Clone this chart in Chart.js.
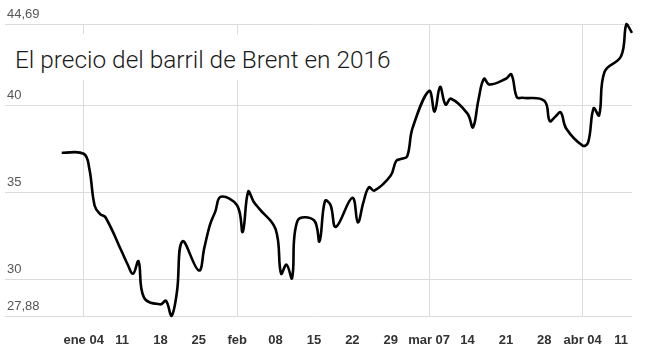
<!DOCTYPE html>
<html>
<head>
<meta charset="utf-8">
<script src="https://cdn.jsdelivr.net/npm/chart.js@4"></script>
<style>
  html, body { margin: 0; padding: 0; background: #fff; }
  #wrap { position: relative; width: 664px; height: 353px; }
  #titulo {
    position: absolute; left: 0; top: 34px; width: 405px; height: 46px;
    background: #fff; color: #1a1a1a;
    font-family: Roboto, "Liberation Sans", sans-serif; font-weight: 300;
    font-size: 24.4px; line-height: 40px; padding: 6px 0 0 15px; box-sizing: border-box;
    white-space: nowrap;
  }
</style>
</head>
<body>
<div id="wrap">
  <canvas id="grafico" width="664" height="353"></canvas>
  <div id="titulo">El precio del barril de Brent en 2016</div>
</div>
<script>
// Brent, USD por barril (cierre diario)
var fechas = ['2015-12-31',
  '2016-01-04','2016-01-05','2016-01-06','2016-01-07','2016-01-08',
  '2016-01-11','2016-01-12','2016-01-13','2016-01-14','2016-01-15',
  '2016-01-18','2016-01-19','2016-01-20','2016-01-21','2016-01-22',
  '2016-01-25','2016-01-26','2016-01-27','2016-01-28','2016-01-29',
  '2016-02-01','2016-02-02','2016-02-03','2016-02-04','2016-02-05',
  '2016-02-08','2016-02-09','2016-02-10','2016-02-11','2016-02-12',
  '2016-02-15','2016-02-16','2016-02-17','2016-02-18','2016-02-19',
  '2016-02-22','2016-02-23','2016-02-24','2016-02-25','2016-02-26',
  '2016-02-29','2016-03-01','2016-03-02','2016-03-03','2016-03-04',
  '2016-03-07','2016-03-08','2016-03-09','2016-03-10','2016-03-11',
  '2016-03-14','2016-03-15','2016-03-16','2016-03-17','2016-03-18',
  '2016-03-21','2016-03-22','2016-03-23','2016-03-24',
  '2016-03-28','2016-03-29','2016-03-30','2016-03-31','2016-04-01',
  '2016-04-04','2016-04-05','2016-04-06','2016-04-07','2016-04-08',
  '2016-04-11','2016-04-12','2016-04-13'];

var precios = [37.28,
  37.22, 36.42, 34.23, 33.75, 33.55,
  31.55, 30.86, 30.31, 31.03, 28.94,
  28.55, 28.76, 27.88, 29.25, 32.18,
  30.50, 31.80, 33.10, 33.89, 34.74,
  34.24, 32.72, 35.04, 34.46, 34.06,
  32.88, 30.32, 30.84, 30.06, 33.36,
  33.39, 32.18, 34.50, 34.28, 33.01,
  34.69, 33.27, 34.41, 35.29, 35.10,
  35.97, 36.81, 36.93, 37.07, 38.72,
  40.84, 39.65, 41.07, 40.05, 40.39,
  39.53, 38.74, 40.33, 41.54, 41.20,
  41.54, 41.79, 40.47, 40.44,
  40.27, 39.10, 39.35, 39.60, 38.67,
  37.69, 37.87, 39.84, 39.43, 41.94,
  42.83, 44.69, 44.18];

// ticks del eje x (lunes) y sus etiquetas
var fechasEje = ['2016-01-04','2016-01-11','2016-01-18','2016-01-25','2016-02-01',
  '2016-02-08','2016-02-15','2016-02-22','2016-02-29','2016-03-07',
  '2016-03-14','2016-03-21','2016-03-28','2016-04-04','2016-04-11'];
var etiquetasEje = ['ene 04','11','18','25','feb','08','15','22','29','mar 07','14','21','28','abr 04','11'];
var inicioMes = ['2016-01-04','2016-02-01','2016-03-07','2016-04-04'];

var ticksY = [27.88, 30, 35, 40, 44.69];

// dias desde el 4 de enero
var base = Date.UTC(2016, 0, 4);
function dia(s) {
    var p = s.split('-');
    return Math.round((Date.UTC(+p[0], +p[1] - 1, +p[2]) - base) / 86400000);
}

var puntos = fechas.map(function(f, i){ return {x: dia(f), y: precios[i]}; });
var diasEje = fechasEje.map(dia);
var diasMes = inicioMes.map(dia);

var fuente = "'Liberation Sans', Arial, Helvetica, sans-serif";

new Chart(document.getElementById('grafico'), {
    type: 'line',
    data: {
        datasets: [{
            data: puntos,
            borderColor: '#000',
            borderWidth: 2.6,
            pointRadius: 0,
            tension: 0.4,
            fill: false,
            clip: false
        }]
    },
    options: {
        responsive: false,
        animation: false,
        events: [],
        layout: { padding: { left: 5, right: 32, top: 24, bottom: 0 } },
        plugins: { legend: { display: false }, tooltip: { enabled: false } },
        scales: {
            x: {
                type: 'linear',
                min: -14.35,
                max: 100,
                border: { display: false },
                grid: {
                    drawTicks: false,
                    lineWidth: 1,
                    color: function(ctx) {
                        if (ctx.tick && diasMes.indexOf(ctx.tick.value) >= 0) return '#dcdcdc';
                        return 'rgba(0,0,0,0)';
                    }
                },
                afterBuildTicks: function(scale) {
                    scale.ticks = diasEje.map(function(v){ return {value: v}; });
                },
                afterFit: function(scale) { scale.height = 37; },
                ticks: {
                    autoSkip: false,
                    maxRotation: 0,
                    padding: 17,
                    color: '#333',
                    font: { family: fuente, size: 13, weight: 'bold' },
                    callback: function(v) {
                        var i = diasEje.indexOf(v);
                        return i >= 0 ? etiquetasEje[i] : '';
                    }
                }
            },
            y: {
                min: 27.88,
                max: 44.69,
                border: { display: false },
                grid: { drawTicks: false, color: '#dcdcdc', lineWidth: 1 },
                afterBuildTicks: function(scale) {
                    scale.ticks = ticksY.map(function(v){ return {value: v}; });
                },
                afterFit: function(scale) { scale.width = 0; },
                ticks: {
                    mirror: true,
                    padding: 2,
                    labelOffset: -10,
                    color: '#555',
                    font: { family: fuente, size: 13 },
                    callback: function(v) { return String(v).replace('.', ','); }
                }
            }
        }
    }
});
</script>
</body>
</html>
